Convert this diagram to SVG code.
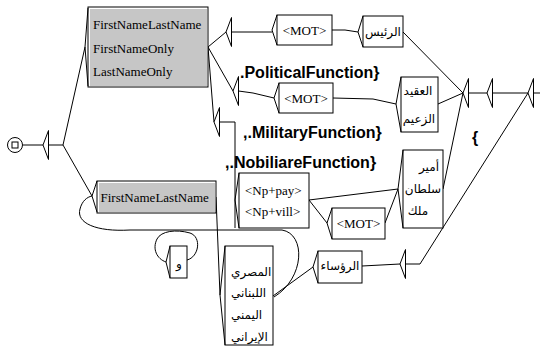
<svg xmlns="http://www.w3.org/2000/svg" xmlns:xlink="http://www.w3.org/1999/xlink" width="540" height="347" viewBox="0 0 540 347">
<style>
.ln{fill:none;stroke:#000;stroke-width:1}
.bx{fill:#fff;stroke:#000;stroke-width:1}
.gr{fill:#c6c6c6;stroke:none}
.br{fill:none;stroke:#000;stroke-width:1}
.t{font-family:"Liberation Serif","Times New Roman",serif;font-size:13px;fill:#000}
.ar{font-family:"DejaVu Sans",sans-serif;font-size:12px;fill:#000}
.lb{font-family:"Liberation Sans",Arial,sans-serif;font-size:16px;font-weight:bold;fill:#000}
.arw{fill:#fff;stroke:#000;stroke-width:1}
</style>
<defs>
<path id="arr" d="M5.5,-14.5 L0,0 L5.5,14.5 Z"/>
</defs>
<rect width="540" height="347" fill="#fff"/>
<g id="connectors">
<path class="ln" d="M23,145 H43"/>
<path class="ln" d="M49,145 H63"/>
<path class="ln" d="M63,145 L85,47"/>
<path class="ln" d="M63,145 L92,196"/>
<path class="ln" d="M208,47 L226,32"/>
<path class="ln" d="M208,47 L233,91"/>
<path class="ln" d="M208,47 L214,122"/>
<path class="ln" d="M231.5,32 H272"/>
<path class="ln" d="M332,30 H345 L358,32"/>
<path class="ln" d="M403,32 L463,93"/>
<path class="ln" d="M238.5,91 L253,93 L274,98"/>
<path class="ln" d="M333,98 L373,99 L396,104"/>
<path class="ln" d="M438,104 L463,93"/>
<path class="ln" d="M219.5,122 H235 V228"/>
<path class="ln" d="M309,200 L398,189"/>
<path class="ln" d="M309,200 L327,223"/>
<path class="ln" d="M385,223 L398,189"/>
<path class="ln" d="M443,189 L463,93"/>
<path class="ln" d="M468.5,93 H487"/>
<path class="ln" d="M492.5,93 H528"/>
<path class="ln" d="M533.5,93 H540"/>
<path class="ln" d="M216,197 L220,295"/>
<path class="ln" d="M273,296 L313,267"/>
<path class="ln" d="M362,266 L400,264"/>
<path class="ln" d="M405.5,264 H420 L528,93"/>
<path class="ln" d="M274,297 C305,278 306,234 282,230 L130,230 C96,232 76,223 80,209 C82,201 87,197 92,196"/>
<path class="ln" d="M187,260 C199,257 202,237 190,233 C176,229 161,231 157,239 C152,249 157,259 166,262"/>
</g>
<g id="n_init">
<circle cx="15" cy="145" r="7.5" fill="#fff" stroke="#000"/>
<rect x="12" y="142" width="6" height="6" fill="#fff" stroke="#000"/>
</g>
<g id="n_a1"><use xlink:href="#arr" class="arw" x="43" y="145"/></g>
<g id="n_a2"><use xlink:href="#arr" class="arw" x="226" y="32"/></g>
<g id="n_a3"><use xlink:href="#arr" class="arw" x="233" y="91"/></g>
<g id="n_a4"><use xlink:href="#arr" class="arw" x="214" y="122"/></g>
<g id="n_a5"><use xlink:href="#arr" class="arw" x="463" y="93"/></g>
<g id="n_a6"><use xlink:href="#arr" class="arw" x="487" y="93"/></g>
<g id="n_afar"><use xlink:href="#arr" class="arw" x="528" y="93"/></g>
<g id="n_ar"><use xlink:href="#arr" class="arw" x="400" y="264"/></g>
<g id="n_top">
<rect class="bx" x="88" y="7" width="120" height="80"/>
<rect class="gr" x="90" y="9" width="117" height="77"/>
<path class="br" d="M88,8 L85,47 L88,86"/>
<text class="t" x="93" y="29">FirstNameLastName</text>
<text class="t" x="93" y="53">FirstNameOnly</text>
<text class="t" x="93" y="76">LastNameOnly</text>
</g>
<g id="n_mot1">
<rect class="bx" x="277" y="15" width="55" height="30"/>
<path class="br" d="M277,15 L272,30 L277,45"/>
<text class="t" x="304.5" y="34.5" text-anchor="middle">&lt;MOT&gt;</text>
</g>
<g id="n_raees">
<rect class="bx" x="363" y="16" width="40" height="31"/>
<path class="br" d="M363,16 L358,32 L363,47"/>
<text class="ar" x="383" y="36" text-anchor="middle">الرئيس</text>
</g>
<g id="n_mot2">
<rect class="bx" x="279" y="83" width="54" height="30"/>
<path class="br" d="M279,83 L274,98 L279,113"/>
<text class="t" x="306" y="102.5" text-anchor="middle">&lt;MOT&gt;</text>
</g>
<g id="n_aqid">
<rect class="bx" x="401" y="77" width="37" height="55"/>
<path class="br" d="M401,77 L396,104 L401,132"/>
<text class="ar" x="418" y="95" text-anchor="middle">العقيد</text>
<text class="ar" x="419" y="123" text-anchor="middle">الزعيم</text>
</g>
<g id="n_np">
<rect class="bx" x="239" y="173" width="70" height="55"/>
<path class="br" d="M239,173 L235,200 L239,228"/>
<text class="t" x="245" y="194.5">&lt;Np+pay&gt;</text>
<text class="t" x="245" y="216">&lt;Np+vill&gt;</text>
</g>
<g id="n_mot3">
<rect class="bx" x="332" y="208" width="53" height="31"/>
<path class="br" d="M332,208 L327,223 L332,239"/>
<text class="t" x="358.5" y="228" text-anchor="middle">&lt;MOT&gt;</text>
</g>
<g id="n_amir">
<rect class="bx" x="403" y="150" width="40" height="78"/>
<path class="br" d="M403,150 L398,189 L403,228"/>
<text class="ar" x="429" y="171" text-anchor="middle">أمير</text>
<text class="ar" x="423" y="193" text-anchor="middle">سلطان</text>
<text class="ar" x="418" y="215" text-anchor="middle">ملك</text>
</g>
<g id="n_fnln2">
<rect class="bx" x="97" y="181" width="119" height="32"/>
<rect class="gr" x="99" y="183" width="116" height="29"/>
<path class="br" d="M97,181 L92,196 L97,212"/>
<text class="t" x="100.5" y="201.5">FirstNameLastName</text>
</g>
<g id="n_waw">
<rect class="bx" x="170" y="246" width="17" height="32"/>
<path class="br" d="M170,246 L166,262 L170,278"/>
<text class="ar" x="179" y="268" text-anchor="middle">و</text>
</g>
<g id="n_masri">
<rect class="bx" x="225" y="246" width="48" height="99"/>
<path class="br" d="M225,246 L220,295 L225,345"/>
<text class="ar" x="231" y="276">المصري</text>
<text class="ar" x="231" y="297">اللبناني</text>
<text class="ar" x="231" y="319">اليمني</text>
<text class="ar" x="231" y="341">الإيراني</text>
</g>
<g id="n_ruasa">
<rect class="bx" x="318" y="251" width="44" height="32"/>
<path class="br" d="M318,251 L313,267 L318,283"/>
<text class="ar" x="340" y="270" text-anchor="middle">الرؤساء</text>
</g>
<g id="labels">
<text class="lb" x="240" y="78">.PoliticalFunction}</text>
<text class="lb" x="243" y="138">,.MilitaryFunction}</text>
<text class="lb" x="225" y="168">,.NobiliareFunction}</text>
<text class="lb" x="472" y="143">{</text>
</g>
</svg>
